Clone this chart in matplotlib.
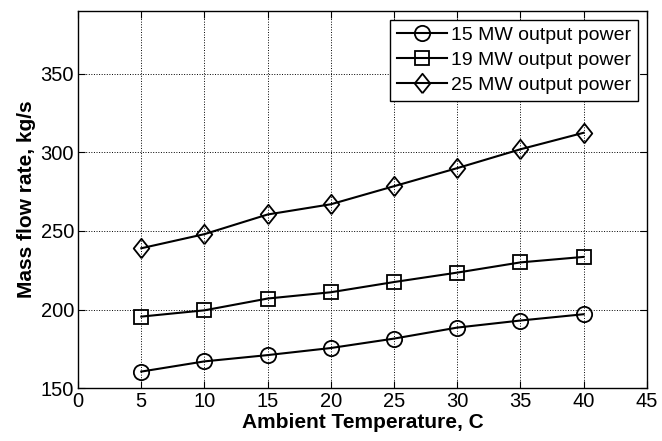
import matplotlib.pyplot as plt
import numpy as np

plt.rcParams["font.family"] = ["Liberation Sans", "DejaVu Sans"]

# Ambient temperature, C
temps = [5, 10, 15, 20, 25, 30, 35, 40]
# Mass flow rate, kg/s
flow_15mw = [160.5, 167, 171, 175.5, 181.5, 188.5, 193, 197]
flow_19mw = [195.5, 199.5, 207, 211, 217.5, 223.5, 230, 233.5]
flow_25mw = [239, 248, 260.5, 267, 278.5, 290, 302, 312.5]

labels = ["15 MW output power", "19 MW output power", "25 MW output power"]

# matlab style diamond is a bit taller than wide
diamond = [(0, -1), (0.8, 0), (0, 1), (-0.8, 0), (0, -1)]
markers = ["o", "s", diamond]
sizes = [11, 10, 14]


def plot_flow(outfile="out.png"):
    fig = plt.figure(figsize=(6.62, 4.41), dpi=100)
    ax = fig.add_axes([0.118, 0.12, 0.859, 0.855])

    for series, label, m, ms in zip([flow_15mw, flow_19mw, flow_25mw], labels, markers, sizes):
        ax.plot(temps, series, color="black", lw=1.5, marker=m, ms=ms,
                mfc="none", mec="black", mew=1.3, label=label)

    ax.set_xlim(0, 45)
    ax.set_ylim(150, 390)
    ax.set_xticks(np.arange(0, 46, 5))
    ax.set_yticks(np.arange(150, 351, 50))
    ax.grid(True, color="black", linestyle=":", linewidth=0.7)
    ax.tick_params(direction="in", top=True, right=True, labelsize=14.5, length=5, pad=3)
    for s in ax.spines.values():
        s.set_linewidth(1.0)

    ax.set_xlabel("Ambient Temperature, C", fontsize=15, fontweight="bold", labelpad=1)
    ax.set_ylabel("Mass flow rate, kg/s", fontsize=15, fontweight="bold", labelpad=3)

    leg = ax.legend(loc="upper right", fontsize=14, fancybox=False, framealpha=1,
                    edgecolor="black", handlelength=2.6, borderaxespad=0.45,
                    labelspacing=0.38, handletextpad=0.2, borderpad=0.35)
    leg.get_frame().set_linewidth(1.0)

    fig.savefig(outfile, dpi=100)


if __name__ == "__main__":
    plot_flow()
